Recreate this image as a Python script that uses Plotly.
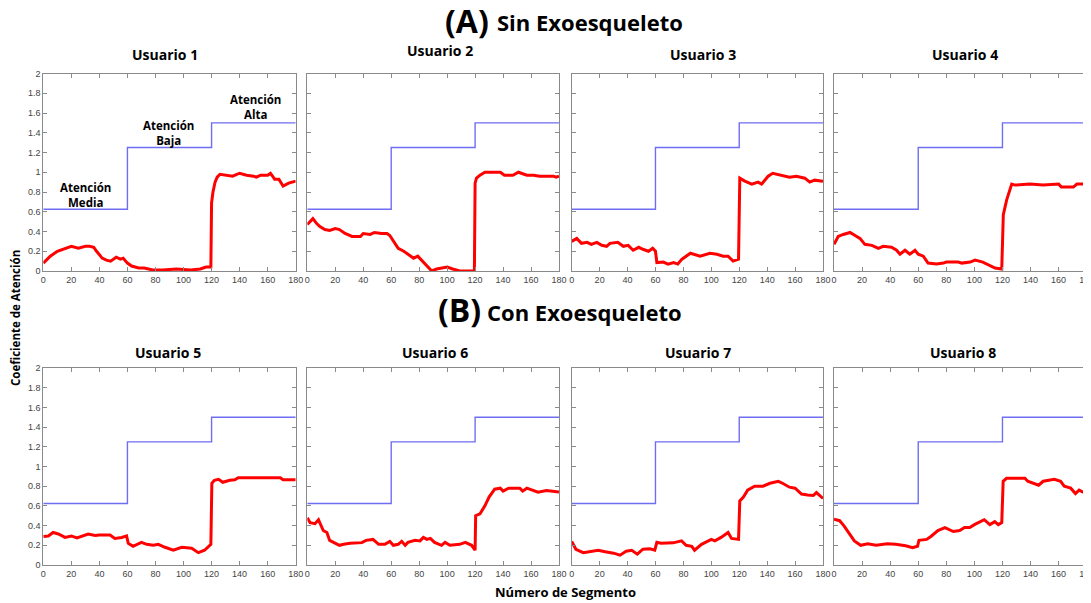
import plotly.graph_objects as go

W, H = 1091, 603
OFF = 8  # page body margin of the HTML document

# ---------------- data ----------------
segmentos_ref = [0, 60, 120, 180]
nivel_ref = [0.625, 1.25, 1.5, 1.5]

x_ticks = [0, 20, 40, 60, 80, 100, 120, 140, 160, 180]
y_ticks = [0, 0.2, 0.4, 0.6, 0.8, 1, 1.2, 1.4, 1.6, 1.8, 2]
y_tick_text = ["0", "0.2", "0.4", "0.6", "0.8", "1", "1.2", "1.4", "1.6", "1.8", "2"]

u1_x = [0, 5, 10, 17, 20, 25, 30, 33, 36, 38, 42, 45, 48, 52, 55, 57, 60, 63, 68, 72, 78, 85, 95, 105, 112, 116, 119.5,
        120, 121, 122.5, 124, 126, 130, 135, 140, 145, 150, 152, 155, 160, 162, 165, 168, 171, 175, 178, 180]
u1_y = [0.08, 0.15, 0.20, 0.24, 0.25, 0.23, 0.25, 0.25, 0.24, 0.20, 0.13, 0.11, 0.10, 0.14, 0.12, 0.13, 0.08, 0.05, 0.03, 0.03, 0.01, 0.01, 0.02, 0.01, 0.02, 0.04, 0.04,
        0.69, 0.80, 0.90, 0.95, 0.98, 0.97, 0.96, 0.99, 0.97, 0.96, 0.95, 0.97, 0.97, 0.99, 0.93, 0.93, 0.86, 0.89, 0.90, 0.91]

u2_x = [0, 3, 4, 6.7, 9, 12.6, 16, 20, 23, 27, 32, 38, 40, 45, 48, 53, 57, 59, 61.5, 65, 69, 72, 76, 79, 83, 86.5, 89, 92.5, 100, 104, 109, 119.5,
        120, 121, 123.5, 127, 138, 141, 147, 151, 157, 162, 166, 176, 178, 180]
u2_y = [0.47, 0.52, 0.53, 0.48, 0.45, 0.42, 0.41, 0.43, 0.42, 0.38, 0.35, 0.35, 0.38, 0.37, 0.39, 0.38, 0.38, 0.36, 0.30, 0.23, 0.20, 0.17, 0.13, 0.15, 0.09, 0.04, 0.00, 0.02, 0.04, 0.02, 0.00, 0.00,
        0.89, 0.94, 0.97, 1.00, 1.00, 0.97, 0.97, 1.00, 0.97, 0.97, 0.96, 0.96, 0.95, 0.96]

u3_x = [0, 3.6, 7, 11, 14, 18, 21.5, 25, 27.4, 33, 37, 40.5, 44, 48, 51, 55, 58, 60, 61, 65.6, 69, 73, 76, 79, 85, 92, 99, 104, 108.5, 112, 115.6, 119.5,
        120.4, 124, 129, 133.5, 136, 140.7, 144, 150, 156, 161, 167, 170.5, 174, 180]
u3_y = [0.30, 0.33, 0.28, 0.29, 0.27, 0.29, 0.26, 0.25, 0.28, 0.29, 0.25, 0.26, 0.21, 0.24, 0.22, 0.20, 0.23, 0.20, 0.085, 0.09, 0.07, 0.085, 0.07, 0.12, 0.18, 0.15, 0.18, 0.17, 0.15, 0.15, 0.10, 0.12,
        0.94, 0.91, 0.88, 0.90, 0.88, 0.96, 0.99, 0.97, 0.95, 0.96, 0.94, 0.90, 0.92, 0.91]

u4_x = [0, 3, 6.6, 11.4, 15, 18.5, 22, 27, 31.6, 35, 41, 44.6, 47, 50.6, 54, 57.7, 60, 63.6, 67, 73, 78, 80, 88.6, 91, 97, 100.5, 106, 110, 114.7, 119.5,
        120.6, 123, 126.6, 129, 139.6, 149, 160, 162, 170.5, 173, 180]
u4_y = [0.27, 0.35, 0.37, 0.39, 0.36, 0.33, 0.27, 0.26, 0.23, 0.25, 0.24, 0.21, 0.17, 0.21, 0.17, 0.21, 0.17, 0.15, 0.08, 0.07, 0.08, 0.09, 0.09, 0.08, 0.09, 0.11, 0.09, 0.06, 0.03, 0.02,
        0.57, 0.72, 0.88, 0.87, 0.88, 0.87, 0.88, 0.85, 0.85, 0.88, 0.88]

u5_x = [0, 3.6, 7, 10.7, 15.5, 20, 24, 28.5, 32, 37, 40, 47.6, 51, 56, 59.4, 60.6, 64, 70, 73.7, 78.5, 82, 86.8, 92.7, 98.7, 105.8, 110.6, 115, 119.5,
        120.2, 122, 125, 128, 133, 136.6, 139, 169, 171, 180]
u5_y = [0.29, 0.295, 0.33, 0.315, 0.28, 0.295, 0.275, 0.295, 0.315, 0.30, 0.305, 0.305, 0.27, 0.28, 0.295, 0.22, 0.19, 0.23, 0.21, 0.20, 0.21, 0.18, 0.15, 0.18, 0.17, 0.125, 0.15, 0.21,
        0.83, 0.86, 0.87, 0.84, 0.86, 0.865, 0.885, 0.885, 0.865, 0.865]

u6_x = [0, 2, 5.5, 8, 11.4, 14, 16, 20, 23, 26, 30.5, 39, 42, 47, 51, 55.5, 59, 61.5, 65, 67.5, 70, 72, 77, 80.6, 83, 85.5, 88, 91, 96, 98.5, 102, 109, 113, 117.5, 120,
        120.4, 123.5, 127, 130, 134, 138, 140, 144, 152, 154, 157, 161.7, 165, 171, 180]
u6_y = [0.48, 0.43, 0.42, 0.46, 0.35, 0.33, 0.25, 0.22, 0.20, 0.21, 0.22, 0.227, 0.25, 0.26, 0.21, 0.21, 0.24, 0.20, 0.21, 0.24, 0.20, 0.23, 0.25, 0.245, 0.28, 0.26, 0.27, 0.23, 0.20, 0.23, 0.20, 0.21, 0.23, 0.20, 0.15,
        0.50, 0.52, 0.60, 0.69, 0.77, 0.78, 0.75, 0.78, 0.78, 0.75, 0.78, 0.76, 0.74, 0.755, 0.74]

u7_x = [0, 3, 8.3, 14, 19, 24, 30, 34.6, 39, 43, 47, 51, 56, 59.5, 61, 64, 72.7, 78.7, 82, 86, 88, 93, 100, 102.5, 107, 112, 114.5, 119.5,
        120.4, 123, 126, 131, 137, 142, 148, 151, 156, 160, 164.6, 169, 173, 175.3, 180]
u7_y = [0.24, 0.16, 0.125, 0.14, 0.15, 0.135, 0.12, 0.10, 0.14, 0.15, 0.11, 0.16, 0.165, 0.15, 0.23, 0.22, 0.225, 0.245, 0.20, 0.19, 0.15, 0.21, 0.26, 0.245, 0.28, 0.33, 0.27, 0.26,
        0.65, 0.69, 0.76, 0.80, 0.80, 0.83, 0.85, 0.83, 0.79, 0.78, 0.72, 0.71, 0.705, 0.735, 0.675]

u8_x = [0, 4, 7, 11, 14.5, 19, 24, 30, 38, 44, 51, 56, 59.5, 60.5, 66, 69, 74, 79, 85, 89.5, 93, 96.7, 100, 107, 111, 114.5, 117, 119.5,
        120.5, 122.9, 136, 138, 145.7, 149, 157, 161.4, 164, 168.6, 172, 174.6, 180]
u8_y = [0.465, 0.45, 0.40, 0.32, 0.245, 0.20, 0.215, 0.20, 0.215, 0.21, 0.195, 0.175, 0.19, 0.25, 0.26, 0.29, 0.35, 0.38, 0.34, 0.35, 0.38, 0.38, 0.41, 0.46, 0.41, 0.44, 0.41, 0.43,
        0.85, 0.88, 0.88, 0.85, 0.81, 0.85, 0.87, 0.85, 0.80, 0.78, 0.725, 0.76, 0.72]

usuarios = ["Usuario 1", "Usuario 2", "Usuario 3", "Usuario 4",
            "Usuario 5", "Usuario 6", "Usuario 7", "Usuario 8"]
series_x = [u1_x, u2_x, u3_x, u4_x, u5_x, u6_x, u7_x, u8_x]
series_y = [u1_y, u2_y, u3_y, u4_y, u5_y, u6_y, u7_y, u8_y]

etiquetas = ["Atención<br>Media", "Atención<br>Baja", "Atención<br>Alta"]
etiquetas_x = [30, 89, 151]
etiquetas_y = [0.77, 1.40, 1.66]

grupos_letra = ["(A)", "(B)"]
grupos_texto = ["Sin Exoesqueleto", "Con Exoesqueleto"]

# ---------------- layout (screen pixels) ----------------
col_px = [(43.3, 295.7), (307.3, 559.0), (571.7, 823.0), (834.0, 1086.7)]
row_px = [(73.5, 271.0), (368.0, 565.0)]
title_px = [(165, 55), (440, 50), (703, 55), (965, 55),
            (168, 352), (435, 352), (698, 352), (963, 352)]
letra_px = [(467, 20), (459, 310)]
texto_px = [(495, 22), (485, 312)]


def px(xs):
    return (xs - OFF) / W


def py(ys):
    return (H - (ys - OFF)) / H


fig = go.Figure()
layout = dict(
    width=W, height=H,
    margin=dict(l=0, r=0, t=0, b=0, pad=0),
    paper_bgcolor="white", plot_bgcolor="white",
    showlegend=False,
)

annotations = []
BLUE = "#6e6ef2"
AXC = "#8a8a8a"
TICKFONT = dict(family="Liberation Sans, Arial", size=9, color="#444444")
TITLEFONT = "Open Sans, Lato, sans-serif"

for i in range(8):
    r, c = divmod(i, 4)
    k = "" if i == 0 else str(i + 1)
    xa, ya = "xaxis" + k, "yaxis" + k
    xr, yr = "x" + k, "y" + k
    x0, x1 = col_px[c]
    y0, y1 = row_px[r]
    layout[xa] = dict(
        domain=[px(x0), px(x1)], anchor=yr, range=[0, 180], automargin=False,
        tickvals=x_ticks, ticks="inside", ticklen=4, tickcolor=AXC,
        showline=True, linecolor=AXC, linewidth=1, mirror="ticks",
        showgrid=False, zeroline=False, tickfont=TICKFONT,
    )
    layout[ya] = dict(
        domain=[py(y1), py(y0)], anchor=xr, range=[0, 2], automargin=False,
        tickvals=y_ticks, ticktext=y_tick_text, ticks="inside", ticklen=4, tickcolor=AXC,
        showline=True, linecolor=AXC, linewidth=1, mirror="ticks",
        showgrid=False, zeroline=False, tickfont=TICKFONT,
        showticklabels=(c == 0),
    )
    fig.add_trace(go.Scatter(
        x=segmentos_ref, y=nivel_ref, mode="lines", line_shape="hv",
        line=dict(color=BLUE, width=1.4), xaxis=xr, yaxis=yr, hoverinfo="skip",
    ))
    fig.add_trace(go.Scatter(
        x=series_x[i], y=series_y[i], mode="lines",
        line=dict(color="#ff0000", width=3), xaxis=xr, yaxis=yr,
    ))
    tx, ty = title_px[i]
    annotations.append(dict(
        text="<b>%s</b>" % usuarios[i], x=px(tx), y=py(ty),
        xref="paper", yref="paper", showarrow=False,
        xanchor="center", yanchor="middle",
        font=dict(family=TITLEFONT, size=14, color="black"),
    ))

for t, ex, ey in zip(etiquetas, etiquetas_x, etiquetas_y):
    annotations.append(dict(
        text="<b>%s</b>" % t, x=ex, y=ey, xref="x", yref="y", showarrow=False,
        xanchor="center", yanchor="middle",
        font=dict(family=TITLEFONT, size=11.5, color="black"),
    ))

for j in range(2):
    lx, ly = letra_px[j]
    tx, ty = texto_px[j]
    annotations.append(dict(
        text="<b>%s</b>" % grupos_letra[j], x=px(lx), y=py(ly),
        xref="paper", yref="paper", showarrow=False,
        xanchor="center", yanchor="middle",
        font=dict(family=TITLEFONT, size=32, color="black"),
    ))
    annotations.append(dict(
        text="<b>%s</b>" % grupos_texto[j], x=px(tx), y=py(ty),
        xref="paper", yref="paper", showarrow=False,
        xanchor="left", yanchor="middle",
        font=dict(family=TITLEFONT, size=22, color="black"),
    ))

annotations.append(dict(
    text="<b>Coeficiente de Atención</b>", x=px(15), y=py(318),
    xref="paper", yref="paper", showarrow=False, textangle=-90,
    xanchor="center", yanchor="middle",
    font=dict(family=TITLEFONT, size=11.5, color="black"),
))
annotations.append(dict(
    text="<b>Número de Segmento</b>", x=px(565), y=py(592),
    xref="paper", yref="paper", showarrow=False,
    xanchor="center", yanchor="middle",
    font=dict(family=TITLEFONT, size=13, color="black"),
))

layout["annotations"] = annotations
fig.update_layout(**layout)
fig.write_html("out.html")
